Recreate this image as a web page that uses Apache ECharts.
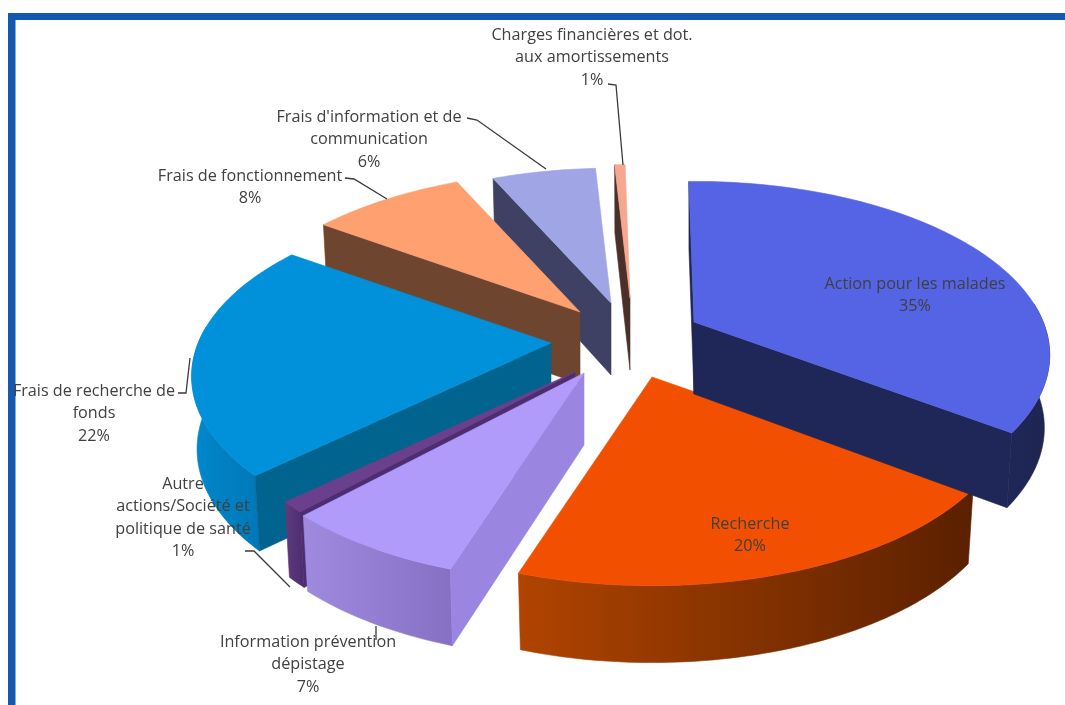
<!DOCTYPE html>
<html><head><meta charset="utf-8">
<style>html,body{margin:0;padding:0;background:#fff}#c{width:1065px;height:705px;filter:blur(.5px)}</style>
<script src="https://cdn.jsdelivr.net/npm/echarts@6/dist/echarts.min.js"></script>
</head><body><div id="c"></div>
<script>
// ---- data ----
const categories = ['Action pour les malades','Recherche','Information prévention\ndépistage','Autre\nactions/Société et\npolitique de santé','Frais de recherche de\nfonds','Frais de fonctionnement',"Frais d'information et de\ncommunication",'Charges financières et dot.\naux amortissements'];
const values = [35.3,20,7,1,21.8,8.4,5.9,0.6];

// ---- layout / style (not data) ----
const apex = [[694,322],[652,377],[584,373],[575,372],[551,343],[580,312],[611,303],[630,298]];
const radiusScale = [.97,.98,.98,.96,.98,.97,.93,.92];
const painter = [7,6,5,4,3,2,1,0];
const topColor = ['#5464E4','#F25000','#B09BFB','#6A3F8E','#0091DA','#FFA070','#A0A5E6','#F5A78F'];
const wallColor = ['#1F2758','#8A3000','#9A86E0','#4E2C70','#00648F','#6E452E','#3E4164','#4A3028'];
const stripColor = [['#1F2758','#1E2550'],['#B04400','#5A2000'],['#9F8ADF','#8570C4'],['#5E3A7E','#4E2C70'],['#0088CC','#0078B8'],['#6E452E','#6E452E'],['#3E4164','#3E4164'],['#4A3028','#4A3028']];
const labelPos = [[915,273],[750,513],[308,631],[183,473],[94,380],[250,165],[369,106],[592,24]];
const leaders = [null,null,[[376,626],[376,640]],[[245,551],[254,551],[290,587]],[[178,393],[186,393],[190,358]],[[345,178],[354,179],[387,199]],[[467,118],[477,120],[546,169]],[[608,84],[616,85],[623,165]]];
const R = 360, RK = 172.5, P = 0.19, DEPTH = 72, BOTTOM_SHRINK = 0.985, START = -1;
const total = values.reduce((a,b)=>a+b,0);

function project(i, theta, down){
  const X = Math.sin(theta), Y = -Math.cos(theta);
  const s = 1/(1-P*Y), rs = radiusScale[i]*(down?BOTTOM_SHRINK:1);
  return [apex[i][0]+R*rs*X*s, apex[i][1]+RK*rs*Y*s+(down?DEPTH*Math.sqrt(s):0)];
}
function apexPt(i, down){ return [apex[i][0], apex[i][1]+(down?DEPTH:0)]; }
function wall(i,t){ return [apexPt(i,false),project(i,t,false),project(i,t,true),apexPt(i,true)]; }

function renderItem(params, api){
  const i = params.dataIndex;
  let before = 0; for(let k=0;k<i;k++) before += values[k];
  const a0 = (START + before/total*360)*Math.PI/180;
  const a1 = a0 + api.value(0)/total*2*Math.PI;
  const n = Math.max(4, Math.ceil((a1-a0)/0.02));
  const z = painter[i]*10+10;
  const kids = [];
  const poly = (pts, fill, zz)=>kids.push({type:'polygon',shape:{points:pts},z2:zz,style:{fill:fill,stroke:fill,lineWidth:.6}});
  const arcTop=[], arcBot=[];
  for(let k=0;k<=n;k++){
    const t=a0+(a1-a0)*k/n;
    if(-Math.cos(t) > -0.12){ arcTop.push(project(i,t,false)); arcBot.unshift(project(i,t,true)); }
  }
  if(arcTop.length>1){
    poly(arcTop.concat(arcBot),{type:'linear',x:0,y:0,x2:1,y2:0,colorStops:[{offset:0,color:stripColor[i][0]},{offset:1,color:stripColor[i][1]}]},z+1);
  }
  // start wall faces the viewer when sin(a0) < 0 ; end wall when sin(a1) > 0
  if(Math.sin(a0) < 0.02) poly(wall(i,a0),wallColor[i],z+2);
  if(Math.sin(a1) > 0.02) poly(wall(i,a1),wallColor[i],z+2);
  const top=[apexPt(i,false)];
  for(let k=0;k<=n;k++) top.push(project(i,a0+(a1-a0)*k/n,false));
  poly(top,topColor[i],z+3);
  if(leaders[i]) kids.push({type:'polyline',shape:{points:leaders[i]},z2:200,style:{fill:'none',stroke:'#3a3a3a',lineWidth:1.3}});
  kids.push({type:'text',x:labelPos[i][0],y:labelPos[i][1],z2:300,style:{text:categories[i]+'\n'+Math.round(api.value(0))+'%',align:'center',verticalAlign:'top',font:'16.2px "Open Sans"',lineHeight:22.5,fill:'#404040'}});
  return {type:'group',children:kids};
}

const chart = echarts.init(document.getElementById('c'),null,{renderer:'canvas'});
chart.setOption({
  animation:false,
  backgroundColor:'#fff',
  graphic:[
    {type:'rect',shape:{x:8,y:13,width:1057,height:7},style:{fill:'#1459B0'},silent:true},
    {type:'rect',shape:{x:8,y:13,width:7.5,height:692},style:{fill:'#1459B0'},silent:true}
  ],
  series:[{type:'custom',coordinateSystem:'none',silent:true,renderItem:renderItem,data:values.map(v=>[v])}]
});
</script></body></html>
